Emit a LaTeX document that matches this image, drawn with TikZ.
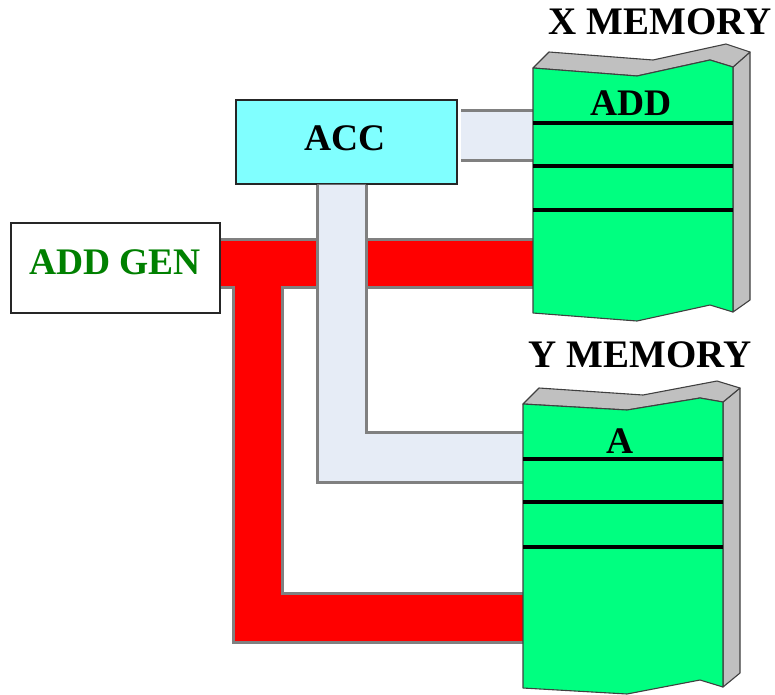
\documentclass[tikz,border=0pt]{standalone}
\usepackage{fontspec}
\setmainfont{Liberation Serif}
\definecolor{memgreen}{RGB}{0,255,128}
\definecolor{memside}{RGB}{192,192,192}
\definecolor{acccyan}{RGB}{128,255,255}
\definecolor{busblue}{RGB}{230,236,246}
\definecolor{busedge}{RGB}{128,128,128}
\definecolor{busred}{RGB}{255,0,0}
\definecolor{gentext}{RGB}{0,128,0}
\begin{document}
\begin{tikzpicture}[x=1pt,y=-1pt,
  lbl/.style={font=\bfseries\fontsize{37.5}{40}\selectfont, inner sep=0pt},
  memlbl/.style={font=\bfseries\fontsize{39}{42}\selectfont, inner sep=0pt},
  boxnode/.style={draw=black!85, line width=1.6pt, inner sep=0pt, anchor=north west},
  busedgeline/.style={draw=busedge, line width=3pt},
  memoutline/.style={draw=black!75, line width=1.1pt, line join=round},
  rowline/.style={draw=black, line width=3.2pt}]
\useasboundingbox (0,0) rectangle (775,694);
% boxes
\node[boxnode, fill=acccyan, minimum width=221pt, minimum height=84pt] (acc) at (235,99) {};
\node[boxnode, fill=white, minimum width=209pt, minimum height=90pt] (gen) at (10,222) {};
\node[lbl] (acctext) at (345,138) {ACC};
\node[lbl, text=gentext] (gentxt) at (115,262) {ADD GEN};
% red bus
\fill[busred] (gen.east |- 0,239) rectangle (533,287);
\fill[busred] (233,287) -- (282,287) -- (282,593) -- (523,593) -- (523,642) -- (233,642) -- cycle;
\draw[busedgeline] (gen.east |- 0,239) -- (533,239);
\draw[busedgeline] (gen.east |- 0,287) -- (233,287) -- (233,642) -- (523,642);
\draw[busedgeline] (533,287) -- (282,287) -- (282,593) -- (523,593);
% blue bus ACC -> Y memory
\fill[busblue] (acc.south -| 317,0) -- (acc.south -| 366,0) -- (366,432) -- (523,432) -- (523,482) -- (317,482) -- cycle;
\draw[busedgeline] (acc.south -| 317,0) -- (317,482) -- (523,482);
\draw[busedgeline] (acc.south -| 366,0) -- (366,432) -- (523,432);
% blue bus ACC -> X memory
\fill[busblue] (461,110) rectangle (533,160);
\draw[busedgeline] (461,110) -- (533,110);
\draw[busedgeline] (461,160) -- (533,160);
% X memory
\filldraw[memoutline, fill=memside] (733,67) -- (750,52) -- (750,300) -- (733,312) -- cycle;
\filldraw[memoutline, fill=memside] (533,68) -- (549,52) -- (653,60) -- (726,44) -- (750,52) -- (733,67) -- (710,60) -- (637,76) -- cycle;
\filldraw[memoutline, fill=memgreen] (533,68) -- (637,76) -- (710,60) -- (733,67) -- (733,312) -- (710,305) -- (637,321) -- (533,313) -- cycle;
\draw[rowline] (533,123) -- (733,123);
\draw[rowline] (533,166) -- (733,166);
\draw[rowline] (533,210) -- (733,210);
\node[lbl] (xadd) at (631,103) {ADD};
\node[memlbl] (xlabel) at (660,22) {X MEMORY};
% Y memory
\filldraw[memoutline, fill=memside] (723,402) -- (740,388) -- (740,673) -- (723,687) -- cycle;
\filldraw[memoutline, fill=memside] (523,404) -- (539,388) -- (643,395) -- (717,381) -- (740,388) -- (723,402) -- (700,398) -- (627,410) -- cycle;
\filldraw[memoutline, fill=memgreen] (523,404) -- (627,410) -- (700,398) -- (723,402) -- (723,687) -- (700,680) -- (627,694) -- (523,688) -- cycle;
\draw[rowline] (523,459) -- (723,459);
\draw[rowline] (523,502) -- (723,502);
\draw[rowline] (523,547) -- (723,547);
\node[lbl] (ya) at (620,441) {A};
\node[memlbl] (ylabel) at (640,355) {Y MEMORY};
\end{tikzpicture}
\end{document}
